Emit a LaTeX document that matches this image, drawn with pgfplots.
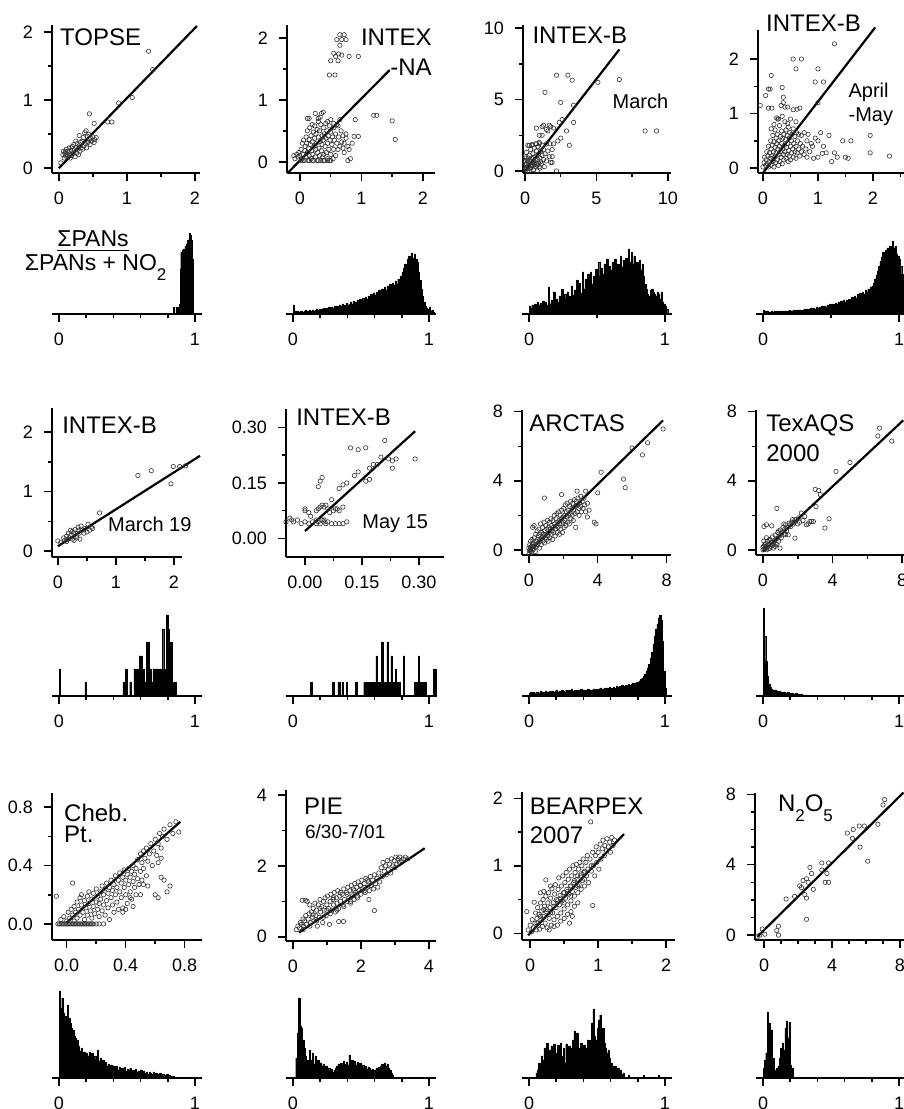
\documentclass[border=0pt]{standalone}
\usepackage{pgfplots}
\pgfplotsset{compat=1.18}
\usepackage{fontspec}
\setmainfont{Liberation Sans}
\newcommand{\tf}{\fontsize{12}{14}\selectfont}
\newcommand{\sbf}{\fontsize{10}{12}\selectfont}
\newcommand{\dn}[1]{\raisebox{-5pt}{\fontsize{8.5}{9}\selectfont #1}}
\pgfplotsset{
  igor/.style={scale only axis, anchor=south west, clip=false,
    axis x line*=bottom, axis y line*=left,
    axis line style={line width=1pt, black},
    every tick/.style={black, line width=0.75pt},
    tick align=outside, major tick length=4pt, minor tick length=2pt,
    tick label style={font=\fontsize{9}{10}\selectfont},
    xticklabel style={yshift=-1.8pt}, yticklabel style={xshift=-2pt},
    /pgf/number format/assume math mode=true},
  hist/.style={igor, axis y line=none, ytick=\empty, ymin=0, ymax=90, height=45pt,
    xmin=-0.05, xmax=1.05, width=74.8pt, xtick={0,1}},
  pts/.style={only marks, mark=o, mark size=1.1pt, draw=black!80, mark options={line width=0.3pt}},
  fit/.style={black, line width=1.1pt, no marks},
  bars/.style={const plot, fill=black, draw=black, line width=0.2pt, no marks},
}
\begin{document}
\begin{tikzpicture}
\useasboundingbox (0,0) rectangle (452pt,554.5pt);
% ---------------- Row 1 scatter ----------------
\begin{axis}[igor, at={(26pt,468pt)}, xmin=-0.1,xmax=2.07,ymin=-0.07,ymax=2.1,width=73.8pt,height=73.8pt,
  xtick={0,1,2}, minor xtick={0.5,1.5}, ytick={0,1,2}, minor ytick={0.5,1.5}]
\addplot[pts] coordinates {(0.03,0.08)(0.06,0.2)(0.07,0.25)(0.08,0.15)(0.09,0.22)(0.1,0.18)(0.11,0.28)(0.12,0.2)(0.13,0.17)(0.14,0.24)(0.15,0.3)(0.16,0.21)(0.17,0.15)(0.18,0.26)(0.19,0.19)(0.2,0.32)(0.21,0.22)(0.22,0.35)(0.23,0.27)(0.24,0.17)(0.25,0.3)(0.26,0.22)(0.27,0.36)(0.28,0.28)(0.29,0.2)(0.3,0.33)(0.31,0.25)(0.32,0.38)(0.33,0.3)(0.34,0.4)(0.35,0.28)(0.36,0.45)(0.37,0.33)(0.38,0.52)(0.39,0.36)(0.4,0.55)(0.41,0.3)(0.42,0.47)(0.43,0.38)(0.44,0.5)(0.45,0.42)(0.46,0.35)(0.47,0.44)(0.48,0.4)(0.5,0.46)(0.52,0.38)(0.53,0.42)(0.55,0.45)(0.45,0.8)(0.52,0.66)(0.72,0.68)(0.78,0.68)(0.88,0.96)(1.08,1.04)(1.32,1.72)(1.38,1.45)(0.3,0.48)(0.25,0.4)(0.18,0.3)(0.1,0.25)};
\addplot[fit] coordinates {(0,0)(2.03,2.09)};
\node[anchor=base west, inner sep=0, font=\tf] at (axis cs:0.015,1.8) {TOPSE};
\end{axis}

\begin{axis}[igor, at={(143.5pt,468pt)}, xmin=-0.21,xmax=2.2,ymin=-0.18,ymax=2.2,width=74.1pt,height=73.8pt,
  xtick={0,1,2}, minor xtick={0.5,1.5}, ytick={0,1,2}, minor ytick={0.5,1.5}]
\addplot[pts] coordinates {(-0.1,0.1)(-0.08,0.05)(-0.05,0.12)(-0.03,0.08)(-0.02,0.15)(0.0,0.1)(0.02,0.2)(0.03,0.05)(0.04,0.3)(0.05,0.12)(0.06,0.35)(0.07,0.02)(0.08,0.18)(0.09,0.25)(0.1,0.4)(0.1,0.08)(0.11,0.3)(0.12,0.15)(0.12,0.5)(0.13,0.02)(0.14,0.22)(0.15,0.36)(0.15,0.1)(0.16,0.55)(0.17,0.28)(0.18,0.05)(0.18,0.42)(0.19,0.18)(0.2,0.6)(0.2,0.32)(0.21,0.12)(0.22,0.48)(0.22,0.02)(0.23,0.25)(0.24,0.38)(0.24,0.58)(0.25,0.08)(0.26,0.2)(0.26,0.45)(0.27,0.3)(0.28,0.52)(0.28,0.02)(0.29,0.15)(0.3,0.4)(0.3,0.65)(0.31,0.22)(0.32,0.1)(0.32,0.5)(0.33,0.33)(0.34,0.02)(0.34,0.6)(0.35,0.18)(0.36,0.42)(0.36,0.28)(0.37,0.08)(0.38,0.55)(0.38,0.35)(0.39,0.12)(0.4,0.45)(0.4,0.02)(0.41,0.25)(0.42,0.62)(0.42,0.38)(0.43,0.15)(0.44,0.5)(0.45,0.3)(0.45,0.05)(0.46,0.42)(0.47,0.2)(0.48,0.58)(0.48,0.02)(0.49,0.35)(0.5,0.12)(0.5,0.48)(0.52,0.28)(0.53,0.4)(0.54,0.05)(0.55,0.55)(0.55,0.2)(0.56,0.35)(0.58,0.45)(0.58,0.1)(0.6,0.3)(0.6,0.6)(0.62,0.2)(0.63,0.4)(0.65,0.25)(0.67,0.5)(0.68,0.32)(0.7,0.22)(0.7,0.42)(0.72,0.3)(0.75,0.38)(0.78,0.25)(0.12,0.7)(0.15,0.7)(0.3,0.7)(0.35,0.78)(0.38,0.8)(0.33,0.72)(0.25,0.78)(0.45,0.65)(0.5,0.68)(0.55,0.62)(0.62,0.58)(0.65,0.68)(0.02,0.02)(0.05,0.02)(0.15,0.02)(0.2,0.02)(0.3,0.02)(0.38,0.02)(0.45,0.02)(0.5,0.02)(0.65,2.05)(0.72,2.05)(0.6,1.97)(0.68,1.97)(0.75,1.97)(0.65,1.88)(0.55,1.75)(0.63,1.74)(0.58,1.7)(0.68,1.72)(0.62,1.63)(0.5,1.63)(0.8,1.7)(0.95,1.7)(0.48,1.4)(0.57,1.4)(1.2,0.75)(1.25,0.75)(1.5,0.66)(1.55,0.36)(0.9,0.68)(0.95,0.41)(0.88,0.41)(0.82,0.05)(0.78,0.02)(0.85,0.3)(0.8,0.2)(0.75,0.45)(0.72,0.15)};
\addplot[fit] coordinates {(-0.2,-0.18)(1.46,1.48)};
\node[anchor=base east, inner sep=0, font=\tf] at (axis cs:2.15,1.87) {INTEX};
\node[anchor=base east, inner sep=0, font=\tf] at (axis cs:2.15,1.39) {-NA};
\end{axis}

\begin{axis}[igor, at={(261.5pt,468pt)}, xmin=-0.14,xmax=10.2,ymin=-0.14,ymax=10.2,width=73.9pt,height=73.9pt,
  xtick={0,5,10}, minor xtick={2.5,7.5}, ytick={0,5,10}, minor ytick={2.5,7.5}]
\addplot[pts] coordinates {(0.0,0.1)(0.05,0.5)(0.08,0.9)(0.1,0.2)(0.1,1.3)(0.15,0.0)(0.2,0.6)(0.2,1.8)(0.25,0.3)(0.3,1.1)(0.3,0.0)(0.35,0.7)(0.4,1.5)(0.4,0.2)(0.45,0.9)(0.5,0.4)(0.5,1.8)(0.55,1.2)(0.6,0.1)(0.6,0.7)(0.65,1.6)(0.7,0.3)(0.7,1.0)(0.75,1.9)(0.8,0.5)(0.8,1.4)(0.85,0.0)(0.9,0.8)(0.9,1.7)(0.95,1.2)(1.0,0.3)(1.0,1.9)(1.05,0.9)(1.1,1.4)(1.15,0.5)(1.2,1.1)(1.2,1.8)(1.3,0.8)(1.3,1.5)(1.35,0.3)(1.4,1.2)(1.5,1.9)(1.5,0.7)(1.6,1.4)(1.7,1.0)(1.75,1.9)(1.8,0.6)(1.9,1.0)(1.9,1.5)(2.0,1.9)(1.6,2.8)(1.7,3.2)(1.8,3.1)(2.0,3.0)(0.8,3.0)(1.0,2.5)(1.2,2.5)(0.3,1.8)(0.5,1.85)(0.1,0.5)(0.15,0.75)(0.05,0.2)(0.25,0.9)(0.35,0.15)(0.45,0.35)(0.55,0.6)(0.65,0.45)(0.75,0.75)(0.85,0.4)(0.95,0.55)(1.05,0.2)(1.1,0.65)(0.2,0.35)(0.4,0.55)(0.6,0.95)(0.0,0.7)(0.02,1.0)(2.2,0.0)(1.9,0.6)(2.2,6.7)(3.0,6.7)(3.3,6.35)(1.4,5.5)(2.5,4.8)(3.4,4.6)(5.1,6.2)(6.6,6.4)(8.4,2.8)(9.2,2.8)(2.4,3.4)(2.6,3.6)(3.4,3.4)(2.9,2.8)(3.1,1.8)(1.2,3.1)(1.3,3.2)(1.5,2.9)(2.3,2.1)(2.5,2.3)(1.0,2.0)(0.8,1.9)};
\addplot[fit] coordinates {(-0.1,-0.13)(6.6,8.5)};
\node[anchor=base west, inner sep=0, font=\tf] at (axis cs:0.5,8.95) {INTEX-B};
\node[anchor=base west, inner sep=0, font=\sbf] at (axis cs:6.1,4.4) {March};
\end{axis}

\begin{axis}[igor, at={(379pt,468pt)}, xmin=-0.09,xmax=2.75,ymin=-0.09,ymax=2.53,width=78.1pt,height=71.4pt,
  xtick={0,1,2}, minor xtick={0.5,1.5,2.5}, ytick={0,1,2}, minor ytick={0.5,1.5}]
\addplot[pts] coordinates {(0.0,0.02)(0.02,0.1)(0.03,0.2)(0.05,0.05)(0.06,0.15)(0.07,0.3)(0.08,0.08)(0.09,0.22)(0.1,0.4)(0.1,0.02)(0.11,0.12)(0.12,0.28)(0.13,0.18)(0.14,0.5)(0.15,0.05)(0.15,0.35)(0.16,0.22)(0.17,0.42)(0.18,0.12)(0.18,0.6)(0.19,0.3)(0.2,0.02)(0.2,0.48)(0.21,0.2)(0.22,0.38)(0.22,0.7)(0.23,0.1)(0.24,0.55)(0.24,0.28)(0.25,0.45)(0.26,0.15)(0.26,0.62)(0.27,0.35)(0.28,0.05)(0.28,0.5)(0.29,0.25)(0.3,0.78)(0.3,0.4)(0.31,0.12)(0.32,0.58)(0.32,0.3)(0.33,0.2)(0.34,0.45)(0.34,0.68)(0.35,0.08)(0.36,0.35)(0.36,0.55)(0.37,0.25)(0.38,0.62)(0.38,0.15)(0.39,0.42)(0.4,0.85)(0.4,0.3)(0.41,0.52)(0.42,0.18)(0.42,0.7)(0.43,0.38)(0.44,0.25)(0.44,0.6)(0.45,0.45)(0.46,0.12)(0.46,0.75)(0.47,0.32)(0.48,0.55)(0.48,0.22)(0.49,0.65)(0.5,0.4)(0.5,0.15)(0.52,0.5)(0.52,0.28)(0.53,0.62)(0.54,0.35)(0.55,0.2)(0.55,0.72)(0.56,0.45)(0.58,0.3)(0.58,0.58)(0.6,0.4)(0.6,0.18)(0.61,0.65)(0.62,0.28)(0.63,0.5)(0.65,0.35)(0.65,0.62)(0.67,0.22)(0.68,0.45)(0.7,0.3)(0.7,0.6)(0.72,0.4)(0.75,0.25)(0.75,0.65)(0.78,0.35)(0.8,0.5)(0.8,0.2)(0.82,0.62)(0.85,0.3)(0.88,0.45)(0.9,0.4)(0.95,0.55)(1.0,0.2)(1.05,0.65)(1.1,0.4)(1.15,0.28)(1.2,0.6)(1.0,0.5)(0.92,0.18)(1.08,0.27)(1.25,0.12)(1.3,0.28)(1.35,0.2)(1.45,0.5)(1.5,0.2)(1.55,0.18)(1.6,0.5)(1.95,0.6)(2.3,0.22)(1.95,0.28)(0.15,0.72)(0.2,0.8)(0.28,0.9)(0.35,0.95)(0.5,0.9)(0.45,0.82)(1.3,2.28)(0.55,2.0)(0.7,2.0)(0.6,1.82)(1.0,1.82)(0.95,1.58)(1.1,1.58)(0.15,1.7)(0.1,1.45)(0.13,1.45)(0.35,1.48)(0.05,1.33)(-0.05,1.15)(0.1,1.1)(0.16,1.1)(0.33,1.15)(0.4,1.12)(0.45,1.12)(0.55,1.07)(0.62,1.08)(0.67,1.1)(0.37,1.3)(0.37,1.2)(1.0,1.2)(0.25,0.92)(0.27,0.9)(0.6,0.85)};
\addplot[fit] coordinates {(0,-0.09)(2.04,2.58)};
\node[anchor=base west, inner sep=0, font=\tf] at (axis cs:0.05,2.5) {INTEX-B};
\node[anchor=base west, inner sep=0, font=\sbf] at (axis cs:1.55,1.3) {April};
\node[anchor=base west, inner sep=0, font=\sbf] at (axis cs:1.55,0.86) {-May};
\end{axis}
% ---------------- Row 1 histograms ----------------
\begin{axis}[hist, at={(26.1pt,397.5pt)}, minor xtick={0.2,0.4,0.6,0.8}]
\addplot[bars] coordinates {(0.835,0)(0.840,7)(0.845,0)(0.860,7)(0.865,0)(0.870,7)(0.875,0)(0.885,10)(0.890,45)(0.895,62)(0.900,58)(0.905,64)(0.910,56)(0.915,65)(0.920,60)(0.925,68)(0.930,62)(0.935,70)(0.940,64)(0.945,74)(0.950,68)(0.955,77)(0.960,81)(0.965,66)(0.970,79)(0.975,74)(0.980,55)(0.985,20)(0.990,0)} \closedcycle;
\node[anchor=base, inner sep=0, font=\fontsize{11.5}{13}\selectfont] at (axis cs:0.25,67) {\underline{ΣPANs}};
\node[anchor=base, inner sep=0, font=\fontsize{11.5}{13}\selectfont] at (axis cs:0.27,43) {ΣPANs + NO\dn{2}};
\end{axis}
\begin{axis}[hist, at={(143.1pt,397.5pt)}, minor xtick={0.2,0.4,0.6,0.8}]
\addplot[bars] coordinates {(0.00,9)(0.01,3)(0.02,2)(0.03,3)(0.04,2)(0.05,3)(0.06,3)(0.07,2)(0.08,3)(0.09,4)(0.10,3)(0.11,3)(0.12,4)(0.13,3)(0.14,4)(0.15,3)(0.16,4)(0.17,5)(0.18,4)(0.19,5)(0.20,4)(0.21,5)(0.22,6)(0.23,5)(0.24,6)(0.25,5)(0.26,7)(0.27,6)(0.28,7)(0.29,6)(0.30,8)(0.31,7)(0.32,8)(0.33,7)(0.34,9)(0.35,8)(0.36,10)(0.37,8)(0.38,9)(0.39,11)(0.40,9)(0.41,10)(0.42,12)(0.43,10)(0.44,13)(0.45,11)(0.46,12)(0.47,14)(0.48,12)(0.49,15)(0.50,13)(0.51,16)(0.52,14)(0.53,17)(0.54,15)(0.55,18)(0.56,16)(0.57,20)(0.58,17)(0.59,21)(0.60,19)(0.61,22)(0.62,20)(0.63,24)(0.64,21)(0.65,25)(0.66,23)(0.67,27)(0.68,24)(0.69,28)(0.70,26)(0.71,30)(0.72,27)(0.73,31)(0.74,29)(0.75,33)(0.76,30)(0.77,35)(0.78,33)(0.79,38)(0.80,42)(0.81,46)(0.82,50)(0.83,48)(0.84,55)(0.85,58)(0.86,54)(0.87,61)(0.88,56)(0.89,60)(0.90,55)(0.91,52)(0.92,42)(0.93,34)(0.94,25)(0.95,18)(0.96,12)(0.97,8)(0.98,6)(0.99,5)(1.00,7)(1.01,3)(1.02,4)(1.03,2)(1.04,0)} \closedcycle;
\end{axis}
\begin{axis}[hist, at={(261.1pt,397.5pt)}, minor xtick={0.5}]
\addplot[bars] coordinates {(0.00,8)(0.01,6)(0.02,9)(0.03,7)(0.04,10)(0.05,8)(0.06,12)(0.07,9)(0.08,11)(0.09,8)(0.10,13)(0.11,10)(0.12,12)(0.13,9)(0.14,27)(0.15,10)(0.16,14)(0.17,11)(0.18,22)(0.19,10)(0.20,15)(0.21,12)(0.22,18)(0.23,13)(0.24,25)(0.25,14)(0.26,20)(0.27,16)(0.28,22)(0.29,18)(0.30,17)(0.31,28)(0.32,19)(0.33,24)(0.34,20)(0.35,34)(0.36,22)(0.37,31)(0.38,21)(0.39,42)(0.40,25)(0.41,35)(0.42,26)(0.43,40)(0.44,28)(0.45,42)(0.46,30)(0.47,38)(0.48,32)(0.49,45)(0.50,35)(0.51,52)(0.52,38)(0.53,46)(0.54,40)(0.55,50)(0.56,42)(0.57,55)(0.58,45)(0.59,48)(0.60,44)(0.61,52)(0.62,46)(0.63,55)(0.64,48)(0.65,50)(0.66,45)(0.67,58)(0.68,47)(0.69,54)(0.70,50)(0.71,56)(0.72,49)(0.73,65)(0.74,52)(0.75,62)(0.76,50)(0.77,58)(0.78,48)(0.79,52)(0.80,45)(0.81,54)(0.82,44)(0.83,50)(0.84,38)(0.85,30)(0.86,25)(0.87,20)(0.88,18)(0.89,24)(0.90,25)(0.91,22)(0.92,20)(0.93,18)(0.94,22)(0.95,20)(0.96,15)(0.97,22)(0.98,12)(0.99,10)(1.00,8)(1.01,5)(1.02,0)} \closedcycle;
\end{axis}
\begin{axis}[hist, at={(378.1pt,397.5pt)}, minor xtick={0.5}]
\addplot[bars] coordinates {(0.00,4)(0.01,3)(0.02,2)(0.03,3)(0.04,2)(0.05,2)(0.06,3)(0.07,2)(0.08,3)(0.09,2)(0.10,3)(0.11,2)(0.12,3)(0.13,3)(0.14,2)(0.15,3)(0.16,3)(0.17,2)(0.18,3)(0.19,4)(0.20,3)(0.21,3)(0.22,4)(0.23,3)(0.24,4)(0.25,3)(0.26,4)(0.27,4)(0.28,3)(0.29,4)(0.30,5)(0.31,4)(0.32,5)(0.33,4)(0.34,5)(0.35,6)(0.36,5)(0.37,6)(0.38,5)(0.39,7)(0.40,6)(0.41,7)(0.42,6)(0.43,8)(0.44,7)(0.45,8)(0.46,7)(0.47,9)(0.48,8)(0.49,10)(0.50,9)(0.51,10)(0.52,9)(0.53,11)(0.54,10)(0.55,12)(0.56,10)(0.57,13)(0.58,11)(0.59,14)(0.60,12)(0.61,14)(0.62,13)(0.63,15)(0.64,14)(0.65,17)(0.66,15)(0.67,18)(0.68,16)(0.69,20)(0.70,17)(0.71,21)(0.72,19)(0.73,22)(0.74,20)(0.75,24)(0.76,22)(0.77,25)(0.78,24)(0.79,27)(0.80,28)(0.81,31)(0.82,35)(0.83,39)(0.84,43)(0.85,48)(0.86,53)(0.87,57)(0.88,62)(0.89,60)(0.90,64)(0.91,66)(0.92,63)(0.93,68)(0.94,65)(0.95,73)(0.96,66)(0.97,68)(0.98,60)(0.99,58)(1.00,55)(1.01,48)(1.02,40)(1.03,35)(1.04,0)} \closedcycle;
\end{axis}
% ---------------- Row 2 scatter ----------------
\begin{axis}[igor, at={(26pt,276pt)}, xmin=-0.1,xmax=2.14,ymin=-0.1,ymax=2.4,width=65pt,height=74.4pt,
  xtick={0,1,2}, minor xtick={0.5,1.5}, ytick={0,1,2}, minor ytick={0.5,1.5}]
\addplot[pts] coordinates {(0.0,0.17)(0.05,0.14)(0.1,0.22)(0.12,0.18)(0.15,0.25)(0.17,0.2)(0.18,0.3)(0.2,0.22)(0.22,0.35)(0.23,0.28)(0.25,0.2)(0.27,0.3)(0.28,0.18)(0.3,0.36)(0.32,0.25)(0.33,0.22)(0.35,0.4)(0.37,0.3)(0.38,0.2)(0.4,0.42)(0.42,0.35)(0.45,0.3)(0.47,0.38)(0.5,0.32)(0.52,0.45)(0.55,0.35)(0.58,0.4)(0.6,0.38)(0.72,0.64)(1.38,1.27)(1.61,1.35)(1.95,1.13)(1.99,1.42)(2.1,1.42)(2.2,1.43)(0.35,0.35)(0.25,0.33)(0.15,0.16)};
\addplot[fit] coordinates {(0,0.08)(2.45,1.6)};
\node[anchor=base west, inner sep=0, font=\tf] at (axis cs:0.07,1.98) {INTEX-B};
\node[anchor=base west, inner sep=0, font=\sbf] at (axis cs:0.86,0.32) {March 19};
\end{axis}

\begin{axis}[igor, at={(143pt,276pt)}, xmin=-0.05,xmax=0.366,ymin=-0.05,ymax=0.35,width=79pt,height=74pt,
  xtick={0,0.15,0.3}, minor xtick={0.075,0.225}, ytick={0,0.15,0.3}, minor ytick={0.075,0.225},
  xticklabel style={/pgf/number format/.cd, fixed, fixed zerofill, precision=2},
  yticklabel style={/pgf/number format/.cd, fixed, fixed zerofill, precision=2}]
\addplot[pts] coordinates {(-0.05,0.045)(-0.04,0.055)(-0.035,0.05)(-0.03,0.045)(-0.02,0.05)(-0.01,0.04)(0.0,0.045)(0.01,0.04)(0.02,0.045)(0.03,0.04)(0.035,0.045)(0.04,0.04)(0.05,0.045)(0.055,0.04)(0.06,0.045)(0.07,0.04)(0.08,0.04)(0.09,0.04)(0.1,0.04)(0.11,0.045)(0.03,0.05)(0.045,0.05)(0.05,0.05)(0.0,0.08)(0.0,0.075)(0.01,0.07)(0.015,0.06)(0.03,0.075)(0.035,0.08)(0.04,0.085)(0.045,0.09)(0.05,0.085)(0.055,0.09)(0.06,0.08)(0.065,0.07)(0.07,0.105)(0.075,0.075)(0.08,0.08)(0.085,0.08)(0.09,0.075)(0.1,0.085)(0.09,0.135)(0.1,0.145)(0.11,0.15)(0.12,0.245)(0.14,0.24)(0.16,0.245)(0.13,0.17)(0.14,0.18)(0.035,0.14)(0.04,0.155)(0.045,0.165)(0.16,0.155)(0.17,0.16)(0.17,0.19)(0.18,0.2)(0.19,0.2)(0.2,0.22)(0.21,0.265)(0.22,0.215)(0.23,0.21)(0.23,0.19)(0.24,0.215)(0.29,0.215)};
\addplot[fit] coordinates {(0,0.02)(0.29,0.29)};
\node[anchor=base west, inner sep=0, font=\tf] at (axis cs:-0.024,0.305) {INTEX-B};
\node[anchor=base west, inner sep=0, font=\sbf] at (axis cs:0.15,0.027) {May 15};
\end{axis}

\begin{axis}[igor, at={(261pt,277pt)}, xmin=-0.4,xmax=8.25,ymin=-0.3,ymax=8.1,width=74.4pt,height=72.5pt,
  xtick={0,4,8}, minor xtick={2,6}, ytick={0,4,8}, minor ytick={2,6}]
\addplot[pts] coordinates {(0.0,0.1)(0.02,-0.2)(0.05,0.3)(0.08,0.0)(0.1,0.5)(0.12,-0.1)(0.15,0.2)(0.18,0.6)(0.2,0.05)(0.22,1.3)(0.25,0.4)(0.28,0.1)(0.3,1.4)(0.32,0.7)(0.35,0.3)(0.38,-0.1)(0.4,0.9)(0.42,0.5)(0.45,0.2)(0.48,1.1)(0.5,0.6)(0.52,0.3)(0.55,0.8)(0.58,1.2)(0.6,0.45)(0.62,0.1)(0.65,0.9)(0.68,1.5)(0.7,0.6)(0.72,0.3)(0.75,1.0)(0.78,0.7)(0.8,1.3)(0.82,0.5)(0.85,0.9)(0.88,1.6)(0.9,0.4)(0.92,1.1)(0.95,0.7)(0.98,1.4)(1.0,0.9)(1.02,0.6)(1.05,1.2)(1.08,1.7)(1.1,0.8)(1.12,0.5)(1.15,1.3)(1.18,1.0)(1.2,1.6)(1.22,0.7)(1.25,1.2)(1.28,1.8)(1.3,0.9)(1.32,1.4)(1.35,1.1)(1.38,0.6)(1.4,1.7)(1.42,1.3)(1.45,1.0)(1.48,2.0)(1.5,1.5)(1.52,0.8)(1.55,1.2)(1.58,1.8)(1.6,1.4)(1.62,2.1)(1.65,1.0)(1.68,1.6)(1.7,1.3)(1.72,2.2)(1.75,1.7)(1.78,0.9)(1.8,1.5)(1.82,2.0)(1.85,1.2)(1.88,1.8)(1.9,2.3)(1.92,1.5)(1.95,1.0)(1.98,1.9)(2.0,1.6)(2.02,2.4)(2.05,1.3)(2.08,2.0)(2.1,1.7)(2.12,2.6)(2.15,1.4)(2.18,2.2)(2.2,1.9)(2.22,2.7)(2.25,1.6)(2.28,2.3)(2.3,2.0)(2.35,1.5)(2.38,2.5)(2.4,2.1)(2.42,2.8)(2.45,1.8)(2.5,2.4)(2.52,2.0)(2.55,2.7)(2.58,1.7)(2.6,2.3)(2.65,2.9)(2.68,2.1)(2.7,2.5)(2.72,1.3)(2.75,2.8)(2.8,2.2)(2.82,2.6)(2.85,3.0)(2.9,2.4)(2.92,2.0)(2.95,2.7)(3.0,2.5)(3.02,3.1)(3.05,2.2)(3.1,2.8)(3.15,2.4)(3.2,3.0)(3.25,2.6)(3.3,2.2)(3.4,2.7)(0.9,3.0)(1.9,3.2)(2.8,3.4)(3.3,3.4)(3.5,2.3)(3.4,1.9)(3.8,1.6)(3.9,1.5)(4.0,3.3)(4.2,4.5)(5.5,4.1)(5.6,3.6)(6.0,5.9)(6.6,5.5)(6.9,6.2)(7.8,7.0)(0.05,-0.05)(0.1,0.15)(0.15,-0.15)(0.2,0.3)(0.25,0.0)(0.3,0.2)};
\addplot[fit] coordinates {(0,-0.1)(7.8,7.5)};
\node[anchor=base west, inner sep=0, font=\tf] at (axis cs:0,6.84) {ARCTAS};
\end{axis}

\begin{axis}[igor, at={(378pt,277pt)}, xmin=-0.4,xmax=8.6,ymin=-0.3,ymax=8.1,width=78.3pt,height=72.5pt,
  xtick={0,4,8}, minor xtick={2,6}, ytick={0,4,8}, minor ytick={2,6}]
\addplot[pts] coordinates {(6.7,7.05)(6.6,6.6)(7.4,6.3)(5.0,5.06)(4.2,4.54)(3.0,3.5)(3.2,3.44)(3.3,3.2)(3.05,2.5)(2.9,1.64)(3.56,1.26)(3.8,1.8)(2.2,2.13)(2.4,1.93)(2.5,1.45)(2.7,1.64)(1.84,1.74)(1.55,1.45)(1.45,0.87)(1.84,0.68)(0.98,0.1)(0.8,2.4)(0.06,1.35)(0.5,1.39)(0.2,1.45)(0.0,0.0)(0.05,0.2)(0.1,0.05)(0.15,0.35)(0.2,0.15)(0.25,0.5)(0.3,0.05)(0.35,0.3)(0.4,0.6)(0.45,0.2)(0.5,0.45)(0.55,0.75)(0.6,0.1)(0.65,0.5)(0.7,0.85)(0.75,0.35)(0.8,0.65)(0.85,1.0)(0.9,0.5)(0.95,0.8)(1.0,1.15)(1.05,0.7)(1.1,1.0)(1.15,1.3)(1.2,0.9)(1.25,1.2)(1.3,1.45)(1.35,1.1)(1.4,1.3)(1.5,1.55)(1.6,1.35)(1.65,1.6)(1.7,1.75)(1.75,1.5)(1.8,1.6)(1.9,1.75)(2.0,1.5)(2.05,1.85)(2.1,1.6)(2.3,1.7)(2.6,1.5)(2.8,1.65)(0.1,0.3)(0.2,0.0)(0.3,0.25)(0.4,0.1)(0.5,0.3)(0.6,0.35)(0.7,0.2)(0.8,0.3)(1.2,1.5)(1.3,0.9)(0.9,1.1)(0.0,0.15)(0.05,0.5)(0.2,0.7)(0.35,0.55)(0.15,0.1)(0.25,0.25)};
\addplot[fit] coordinates {(0,-0.1)(8.06,7.5)};
\node[anchor=base west, inner sep=0, font=\tf] at (axis cs:0.17,6.84) {TexAQS};
\node[anchor=base west, inner sep=0, font=\tf] at (axis cs:0.17,5.1) {2000};
\end{axis}
% ---------------- Row 2 histograms ----------------
\begin{axis}[hist, at={(26.1pt,206.5pt)}, minor xtick={0.2,0.4,0.6,0.8}]
\addplot[bars] coordinates {(0.00,27)(0.01,0)(0.19,13.5)(0.20,0)(0.47,13.5)(0.48,0)(0.49,27)(0.50,0)(0.52,13.5)(0.53,0)(0.55,27)(0.56,13.5)(0.57,27)(0.58,13.5)(0.59,40)(0.60,40)(0.61,13.5)(0.62,27)(0.63,13.5)(0.64,54)(0.65,54)(0.66,13.5)(0.67,27)(0.68,13.5)(0.69,27)(0.70,13.5)(0.71,27)(0.72,27)(0.73,13.5)(0.74,27)(0.75,27)(0.76,67)(0.77,27)(0.78,13.5)(0.79,81)(0.80,67)(0.81,13.5)(0.82,54)(0.83,13.5)(0.84,13.5)(0.85,13.5)(0.86,0)} \closedcycle;
\end{axis}
\begin{axis}[hist, at={(143.1pt,206.5pt)}, minor xtick={0.2,0.4,0.6,0.8}]
\addplot[bars] coordinates {(0.13,13.5)(0.14,0)(0.29,13.5)(0.30,0)(0.33,13.5)(0.35,0)(0.36,13.5)(0.37,0)(0.39,13.5)(0.40,0)(0.46,13.5)(0.47,0)(0.52,13.5)(0.61,40)(0.62,13.5)(0.65,54)(0.66,13.5)(0.69,54)(0.70,13.5)(0.72,40)(0.73,13.5)(0.75,27)(0.76,13.5)(0.79,0)(0.81,40)(0.82,0)(0.89,13.5)(0.92,40)(0.93,13.5)(0.98,0)(1.03,27)(1.05,0)} \closedcycle;
\end{axis}
\begin{axis}[hist, at={(261.1pt,206.5pt)}, minor xtick={0.2,0.4,0.6,0.8}]
\addplot[bars] coordinates {(0.00,3)(0.01,4)(0.02,3)(0.03,4)(0.04,3)(0.05,4)(0.06,4)(0.07,3)(0.08,5)(0.09,4)(0.10,4)(0.11,3)(0.12,5)(0.13,4)(0.14,4)(0.15,5)(0.16,4)(0.17,5)(0.18,4)(0.19,5)(0.20,6)(0.21,4)(0.22,5)(0.23,5)(0.24,6)(0.25,5)(0.26,4)(0.27,6)(0.28,5)(0.29,6)(0.30,5)(0.31,7)(0.32,5)(0.33,6)(0.34,5)(0.35,6)(0.36,5)(0.37,6)(0.38,7)(0.39,5)(0.40,6)(0.41,5)(0.42,6)(0.43,7)(0.44,6)(0.45,5)(0.46,6)(0.47,7)(0.48,6)(0.49,7)(0.50,6)(0.51,7)(0.52,8)(0.53,6)(0.54,7)(0.55,8)(0.56,7)(0.57,8)(0.58,7)(0.59,9)(0.60,8)(0.61,7)(0.62,9)(0.63,8)(0.64,10)(0.65,9)(0.66,10)(0.67,9)(0.68,11)(0.69,10)(0.70,10)(0.71,11)(0.72,10)(0.73,12)(0.74,11)(0.75,12)(0.76,13)(0.77,12)(0.78,13)(0.79,14)(0.80,14)(0.81,15)(0.82,17)(0.83,18)(0.84,20)(0.85,22)(0.86,25)(0.87,28)(0.88,32)(0.89,38)(0.90,44)(0.91,52)(0.92,60)(0.93,67)(0.94,72)(0.95,78)(0.96,81)(0.97,76)(0.98,55)(0.99,25)(1.00,8)(1.01,0)} \closedcycle;
\end{axis}
\begin{axis}[hist, at={(378.1pt,206.5pt)}, minor xtick={0.2,0.4,0.6,0.8}]
\addplot[bars] coordinates {(0.00,88)(0.01,60)(0.02,35)(0.03,20)(0.04,12)(0.05,9)(0.06,7)(0.07,6)(0.08,5)(0.09,6)(0.10,5)(0.11,4)(0.12,5)(0.13,4)(0.14,3)(0.15,4)(0.16,3)(0.17,3)(0.18,4)(0.19,3)(0.20,2)(0.21,3)(0.22,2)(0.23,2)(0.24,3)(0.25,2)(0.26,2)(0.27,1)(0.28,2)(0.29,1)(0.30,1)(0.31,1)(0.32,0)} \closedcycle;
\end{axis}
% ---------------- Row 3 scatter ----------------
\begin{axis}[igor, at={(26pt,84.5pt)}, xmin=-0.1,xmax=0.92,ymin=-0.11,ymax=0.9,width=75.2pt,height=73.7pt,
  xtick={0,0.4,0.8}, minor xtick={0.2,0.6}, ytick={0,0.4,0.8}, minor ytick={0.2,0.6},
  xticklabel style={/pgf/number format/.cd, fixed, fixed zerofill, precision=1},
  yticklabel style={/pgf/number format/.cd, fixed, fixed zerofill, precision=1}]
\addplot[pts] coordinates {(-0.06,0)(-0.05,0)(-0.04,0)(-0.03,0)(-0.02,0)(-0.01,0)(0.0,0)(0.01,0)(0.02,0)(0.03,0)(0.04,0)(0.05,0)(0.06,0)(0.07,0)(0.08,0)(0.09,0)(0.1,0)(0.11,0)(0.12,0)(0.13,0)(0.14,0)(0.15,0)(0.16,0)(0.17,0)(0.18,0)(0.2,0)(0.22,0)(0.25,0)(-0.04,0.03)(-0.02,0.05)(0.0,0.02)(0.01,0.08)(0.02,0.04)(0.03,0.1)(0.04,0.06)(0.05,0.12)(0.05,0.02)(0.06,0.08)(0.07,0.15)(0.07,0.04)(0.08,0.1)(0.09,0.18)(0.09,0.06)(0.1,0.13)(0.1,0.2)(0.11,0.08)(0.12,0.16)(0.12,0.03)(0.13,0.11)(0.14,0.19)(0.14,0.06)(0.15,0.14)(0.15,0.22)(0.16,0.09)(0.17,0.17)(0.17,0.04)(0.18,0.12)(0.18,0.21)(0.19,0.07)(0.2,0.15)(0.2,0.24)(0.21,0.1)(0.21,0.19)(0.22,0.05)(0.22,0.14)(0.23,0.22)(0.23,0.17)(0.24,0.09)(0.24,0.26)(0.25,0.13)(0.25,0.2)(0.26,0.06)(0.26,0.24)(0.27,0.16)(0.27,0.28)(0.28,0.11)(0.28,0.21)(0.29,0.03)(0.29,0.25)(0.3,0.18)(0.3,0.3)(0.31,0.13)(0.31,0.23)(0.32,0.27)(0.32,0.08)(0.33,0.2)(0.33,0.33)(0.34,0.15)(0.34,0.25)(0.35,0.3)(0.35,0.1)(0.36,0.22)(0.36,0.35)(0.37,0.18)(0.37,0.28)(0.38,0.32)(0.38,0.11)(0.39,0.25)(0.39,0.37)(0.4,0.2)(0.4,0.3)(0.41,0.34)(0.41,0.14)(0.42,0.27)(0.42,0.38)(0.43,0.22)(0.43,0.32)(0.44,0.36)(0.44,0.17)(0.45,0.29)(0.45,0.4)(0.46,0.25)(0.46,0.34)(0.47,0.38)(0.47,0.2)(0.48,0.31)(0.48,0.44)(0.49,0.27)(0.5,0.36)(0.5,0.48)(0.51,0.3)(0.51,0.42)(0.52,0.5)(0.52,0.38)(0.53,0.45)(0.54,0.33)(0.54,0.52)(0.55,0.43)(0.56,0.48)(0.57,0.55)(0.58,0.4)(0.59,0.5)(0.6,0.58)(0.61,0.47)(0.62,0.55)(0.63,0.62)(0.64,0.52)(0.65,0.6)(0.66,0.65)(0.68,0.58)(0.7,0.68)(0.72,0.62)(0.74,0.7)(0.76,0.63)(-0.07,0.19)(0.04,0.28)(0.52,0.27)(0.55,0.26)(0.6,0.2)(0.62,0.18)(0.64,0.32)(0.66,0.3)(0.68,0.22)(0.7,0.26)(0.64,0.45)(0.62,0.42)(0.4,0.1)(0.43,0.18)(0.38,0.08)(0.5,0.2)(0.45,0.12)};
\addplot[fit] coordinates {(0.0,0.01)(0.77,0.7)};
\node[anchor=base west, inner sep=0, font=\tf] at (axis cs:-0.02,0.705) {Cheb.};
\node[anchor=base west, inner sep=0, font=\tf] at (axis cs:-0.02,0.56) {Pt.};
\end{axis}

\begin{axis}[igor, at={(143pt,84pt)}, xmin=-0.2,xmax=4.2,ymin=-0.12,ymax=4.14,width=74.8pt,height=75.4pt,
  xtick={0,2,4}, minor xtick={1,3}, ytick={0,2,4}, minor ytick={1,3}]
\addplot[pts] coordinates {(0.1,0.2)(0.15,0.3)(0.2,0.25)(0.22,0.4)(0.25,0.35)(0.3,0.5)(0.32,0.3)(0.35,0.45)(0.38,0.6)(0.4,0.35)(0.42,1.0)(0.45,0.5)(0.48,0.65)(0.5,0.9)(0.52,0.4)(0.55,0.7)(0.58,0.55)(0.6,0.8)(0.62,0.45)(0.65,0.95)(0.68,0.6)(0.7,0.75)(0.72,0.3)(0.75,0.9)(0.78,0.55)(0.8,1.05)(0.82,0.7)(0.85,0.85)(0.88,0.4)(0.9,1.0)(0.92,0.75)(0.95,1.1)(0.98,0.6)(1.0,0.9)(1.02,1.15)(1.05,0.8)(1.08,0.35)(1.1,1.0)(1.12,1.2)(1.15,0.75)(1.18,1.05)(1.2,0.9)(1.22,1.25)(1.25,0.7)(1.28,1.1)(1.3,0.95)(1.32,1.3)(1.35,0.8)(1.38,1.15)(1.4,1.0)(1.45,1.2)(1.48,0.9)(1.5,1.35)(1.52,1.05)(1.58,1.25)(1.6,1.0)(1.62,1.4)(1.65,1.1)(1.68,1.3)(1.7,0.95)(1.72,1.45)(1.75,1.15)(1.78,1.35)(1.8,1.05)(1.82,1.5)(1.85,1.25)(1.88,1.4)(1.9,1.1)(1.92,1.55)(1.95,1.3)(1.98,1.45)(2.0,1.2)(2.03,1.6)(2.06,1.35)(2.1,1.5)(2.13,1.25)(2.15,1.65)(2.19,1.4)(2.23,1.55)(2.25,1.3)(2.28,1.7)(2.31,1.45)(2.35,1.6)(2.38,1.35)(2.4,1.75)(2.44,1.5)(2.48,1.65)(2.5,1.4)(2.53,1.8)(2.56,1.55)(2.6,1.95)(2.63,1.7)(2.65,2.1)(2.69,1.85)(2.73,2.0)(2.75,1.75)(2.78,2.15)(2.81,1.9)(2.85,2.05)(2.88,1.8)(2.9,2.2)(2.94,2.0)(2.98,2.15)(3.0,1.95)(3.03,2.25)(3.06,2.05)(3.1,2.2)(3.13,2.1)(3.15,2.25)(3.19,2.15)(3.25,2.2)(3.31,2.25)(3.38,2.2)(2.24,1.05)(2.4,0.74)(1.35,0.43)(1.49,0.43)(0.28,1.03)(0.37,1.03)(0.3,0.2)(0.5,0.3)(0.7,0.45)(0.9,0.55)(1.1,0.65)(1.3,0.75)(1.5,0.85)(1.7,1.0)(1.9,1.15)(2.1,1.3)(2.3,1.45)(0.6,0.62)(0.8,0.8)(1.0,0.75)(1.2,1.1)(1.4,1.25)(1.6,1.2)(1.8,1.3)(2.0,1.45)(2.2,1.6)};
\addplot[fit] coordinates {(0.18,0.12)(3.88,2.5)};
\node[anchor=base west, inner sep=0, font=\tf] at (axis cs:0.32,3.44) {PIE};
\node[anchor=base west, inner sep=0, font=\fontsize{9.5}{11}\selectfont] at (axis cs:0.35,2.77) {6/30-7/01};
\end{axis}

\begin{axis}[igor, at={(261pt,84.5pt)}, xmin=-0.12,xmax=2.13,ymin=-0.1,ymax=2.09,width=76.5pt,height=73.9pt,
  xtick={0,1,2}, minor xtick={0.5,1.5}, ytick={0,1,2}, minor ytick={0.5,1.5}]
\addplot[pts] coordinates {(-0.05,0.32)(-0.03,0.05)(0.0,0.12)(0.02,0.02)(0.03,0.2)(0.05,0.08)(0.06,0.46)(0.07,0.15)(0.08,0.3)(0.09,0.05)(0.1,0.22)(0.11,0.38)(0.12,0.12)(0.13,0.28)(0.14,0.06)(0.15,0.45)(0.16,0.2)(0.17,0.33)(0.18,0.1)(0.19,0.5)(0.2,0.25)(0.21,0.4)(0.22,0.15)(0.23,0.79)(0.23,0.55)(0.24,0.32)(0.25,0.08)(0.26,0.45)(0.27,0.6)(0.28,0.22)(0.29,0.38)(0.3,0.52)(0.31,0.12)(0.32,0.66)(0.33,0.3)(0.34,0.45)(0.35,0.2)(0.36,0.58)(0.37,0.72)(0.38,0.38)(0.39,0.5)(0.4,0.25)(0.41,0.65)(0.42,0.82)(0.43,0.42)(0.44,0.56)(0.45,0.3)(0.46,0.7)(0.47,0.48)(0.48,0.85)(0.49,0.6)(0.5,0.36)(0.51,0.75)(0.52,0.52)(0.53,0.9)(0.54,0.65)(0.55,0.42)(0.56,0.8)(0.57,0.58)(0.58,0.95)(0.59,0.7)(0.6,0.48)(0.61,0.85)(0.62,0.62)(0.63,1.0)(0.64,0.75)(0.65,0.55)(0.66,0.9)(0.67,0.68)(0.68,1.02)(0.69,0.8)(0.7,0.6)(0.71,0.95)(0.72,0.72)(0.73,1.05)(0.74,0.85)(0.75,0.65)(0.76,1.0)(0.77,0.78)(0.78,1.1)(0.79,0.9)(0.8,0.7)(0.82,1.05)(0.83,0.85)(0.84,1.15)(0.85,0.95)(0.86,0.75)(0.88,1.1)(0.89,1.65)(0.9,0.92)(0.92,0.41)(0.92,1.2)(0.93,1.0)(0.95,0.85)(0.96,1.15)(0.97,1.28)(0.98,1.05)(1.0,1.2)(1.01,0.95)(1.03,1.32)(1.04,1.1)(1.06,1.25)(1.07,1.38)(1.09,1.15)(1.1,1.3)(1.12,1.22)(1.13,1.4)(1.15,1.28)(1.17,1.35)(1.18,1.2)(1.2,1.42)(1.22,1.3)(1.24,1.38)(0.25,0.35)(0.3,0.3)(0.35,0.4)(0.4,0.48)(0.45,0.52)(0.5,0.6)(0.55,0.62)(0.6,0.7)(0.65,0.78)(0.7,0.85)(0.75,0.88)(0.8,0.92)(0.2,0.35)(0.15,0.25)(0.1,0.15)(0.45,0.18)(0.5,0.22)(0.55,0.28)(0.6,0.32)(0.62,0.25)(0.58,0.15)(0.65,0.4)(0.7,0.45)(0.35,0.1)(0.4,0.12)(0.28,0.05)(0.5,0.45)(0.6,0.55)(0.7,0.7)(0.8,0.8)(0.9,1.0)(0.2,0.62)(0.3,0.7)(0.15,0.6)};
\addplot[fit] coordinates {(-0.03,-0.03)(1.38,1.47)};
\node[anchor=base west, inner sep=0, font=\tf] at (axis cs:-0.01,1.76) {BEARPEX};
\node[anchor=base west, inner sep=0, font=\tf] at (axis cs:-0.01,1.33) {2007};
\end{axis}

\begin{axis}[igor, at={(377.5pt,84.5pt)}, xmin=-0.53,xmax=8.6,ymin=-0.28,ymax=8.1,width=77.6pt,height=73.7pt,
  xtick={0,4,8}, minor xtick={1,2,3,5,6,7}, ytick={0,4,8}, minor ytick={1,2,3,5,6,7}]
\addplot[pts] coordinates {(7.1,7.7)(7.0,7.4)(6.7,6.3)(6.1,4.2)(5.9,6.2)(5.6,6.2)(5.25,6.0)(4.9,5.8)(5.2,5.5)(5.65,5.0)(3.8,4.1)(3.4,4.1)(2.7,3.85)(2.8,3.5)(3.4,3.7)(3.7,3.5)(3.6,3.0)(3.8,3.0)(2.5,3.2)(2.3,3.1)(2.1,2.8)(2.6,3.0)(2.9,2.6)(2.2,2.7)(2.4,2.3)(2.5,2.1)(1.8,2.2)(1.3,2.05)(2.5,0.9)(0.85,0.5)(0.75,0.25)(0.85,0.0)(-0.1,0.35)(0.05,0.05)(-0.25,0.0)(-0.4,-0.1)};
\addplot[fit] coordinates {(-0.4,-0.1)(8.2,8.1)};
\node[anchor=base west, inner sep=0, font=\tf] at (axis cs:0.8,7.0) {N\dn{2}O\dn{5}};
\end{axis}
% ---------------- Row 3 histograms ----------------
\begin{axis}[hist, at={(26.1pt,15.5pt)}, minor xtick={0.2,0.4,0.6,0.8}]
\addplot[bars] coordinates {(0.00,87)(0.01,70)(0.02,80)(0.03,65)(0.04,62)(0.05,58)(0.06,73)(0.07,60)(0.08,55)(0.09,50)(0.10,48)(0.11,42)(0.12,40)(0.13,38)(0.14,32)(0.15,27)(0.16,30)(0.17,25)(0.18,26)(0.19,24)(0.20,25)(0.21,22)(0.22,26)(0.23,20)(0.24,25)(0.25,18)(0.26,22)(0.27,19)(0.28,28)(0.29,17)(0.30,20)(0.31,15)(0.32,18)(0.33,13)(0.34,16)(0.35,12)(0.36,14)(0.37,11)(0.38,13)(0.39,10)(0.40,12)(0.41,9)(0.42,12)(0.43,8)(0.44,11)(0.45,9)(0.46,10)(0.47,8)(0.48,11)(0.49,7)(0.50,9)(0.51,8)(0.52,10)(0.53,6)(0.54,8)(0.55,7)(0.56,9)(0.57,6)(0.58,7)(0.59,5)(0.60,8)(0.61,6)(0.62,7)(0.63,5)(0.64,6)(0.65,4)(0.66,6)(0.67,5)(0.68,4)(0.69,6)(0.70,4)(0.71,5)(0.72,3)(0.73,4)(0.74,5)(0.75,3)(0.76,4)(0.77,2)(0.78,3)(0.79,4)(0.80,2)(0.81,3)(0.82,2)(0.83,1)(0.84,2)(0.85,1)(0.86,1)(0.87,0)} \closedcycle;
\end{axis}
\begin{axis}[hist, at={(143.1pt,15.5pt)}, minor xtick={0.2,0.4,0.6,0.8}]
\addplot[bars] coordinates {(0.02,20)(0.03,45)(0.04,80)(0.05,52)(0.06,50)(0.07,38)(0.08,30)(0.09,22)(0.10,18)(0.11,15)(0.12,28)(0.13,18)(0.14,25)(0.15,14)(0.16,22)(0.17,12)(0.18,18)(0.19,10)(0.20,15)(0.21,12)(0.22,14)(0.23,9)(0.24,12)(0.25,8)(0.26,10)(0.27,7)(0.28,9)(0.29,6)(0.30,8)(0.31,10)(0.32,12)(0.33,14)(0.34,11)(0.35,15)(0.36,12)(0.37,17)(0.38,14)(0.39,16)(0.40,13)(0.41,23)(0.42,15)(0.43,18)(0.44,14)(0.45,17)(0.46,13)(0.47,16)(0.48,12)(0.49,15)(0.50,11)(0.51,13)(0.52,10)(0.53,12)(0.54,9)(0.55,11)(0.56,10)(0.57,8)(0.58,9)(0.59,7)(0.60,8)(0.61,10)(0.62,9)(0.63,11)(0.64,12)(0.65,14)(0.66,13)(0.67,15)(0.68,12)(0.69,14)(0.70,10)(0.71,8)(0.72,5)(0.73,3)(0.74,1)(0.75,0)} \closedcycle;
\end{axis}
\begin{axis}[hist, at={(261.1pt,15.5pt)}, minor xtick={0.2,0.4,0.6,0.8}]
\addplot[bars] coordinates {(0.05,5)(0.06,8)(0.07,15)(0.08,10)(0.09,22)(0.10,18)(0.11,30)(0.12,20)(0.13,35)(0.14,15)(0.15,28)(0.16,32)(0.17,12)(0.18,34)(0.19,25)(0.20,18)(0.21,33)(0.22,20)(0.23,35)(0.24,22)(0.25,30)(0.26,15)(0.27,34)(0.28,24)(0.29,32)(0.30,18)(0.31,30)(0.32,38)(0.33,47)(0.34,40)(0.35,45)(0.36,30)(0.37,25)(0.38,35)(0.39,28)(0.40,33)(0.41,22)(0.42,30)(0.43,38)(0.44,35)(0.45,38)(0.46,55)(0.47,69)(0.48,42)(0.49,38)(0.50,50)(0.51,58)(0.52,63)(0.53,48)(0.54,50)(0.55,35)(0.56,30)(0.57,25)(0.58,28)(0.59,20)(0.60,15)(0.61,12)(0.62,10)(0.63,12)(0.64,8)(0.65,10)(0.66,6)(0.67,8)(0.68,4)(0.69,5)(0.70,0)(0.73,3)(0.74,0)(0.84,3)(0.85,0)(0.95,3)(0.96,0)} \closedcycle;
\end{axis}
\begin{axis}[hist, at={(378.1pt,15.5pt)}, minor xtick={0.2,0.4,0.6,0.8}]
\addplot[bars] coordinates {(0.00,10)(0.01,18)(0.02,25)(0.03,66)(0.04,55)(0.05,42)(0.06,48)(0.07,20)(0.08,8)(0.09,6)(0.10,10)(0.11,12)(0.12,20)(0.13,30)(0.14,35)(0.15,28)(0.16,50)(0.17,57)(0.18,40)(0.19,56)(0.20,13)(0.21,10)(0.22,0)} \closedcycle;
\end{axis}
\end{tikzpicture}
\end{document}
